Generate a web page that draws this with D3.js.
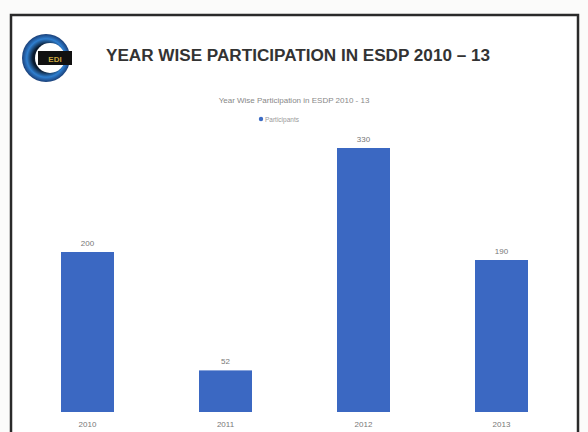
<!DOCTYPE html>
<html>
<head>
<meta charset="utf-8">
<script src="https://cdn.jsdelivr.net/npm/d3@7"></script>
<style>
html,body{margin:0;padding:0;background:#fff;}
svg{display:block;}
</style>
</head>
<body>
<svg id="c" width="588" height="432"></svg>
<script>
const categories = ["2010", "2011", "2012", "2013"];
const participants = [200, 52, 330, 190];
const seriesName = "Participants";
const slideTitle = "YEAR WISE PARTICIPATION IN ESDP 2010 – 13";
const chartTitle = "Year Wise Participation in ESDP 2010 - 13";

const svg = d3.select("#c");
svg.append("rect").attr("width",588).attr("height",432).attr("fill","#fbfbfa");
// slide frame
svg.append("rect").attr("x",11).attr("y",15).attr("width",567).attr("height",430)
  .attr("fill","#fff").attr("stroke","#2a2a2a").attr("stroke-width",2.5);

// logo
const defs = svg.append("defs");
const g = defs.append("radialGradient").attr("id","lg");
g.append("stop").attr("offset","55%").attr("stop-color","#0a1a2e");
g.append("stop").attr("offset","80%").attr("stop-color","#2f7fd0");
g.append("stop").attr("offset","100%").attr("stop-color","#1a3f78");
svg.append("circle").attr("cx",46).attr("cy",58).attr("r",24).attr("fill","url(#lg)");
svg.append("circle").attr("cx",50).attr("cy",58).attr("r",15).attr("fill","#fff");
svg.append("rect").attr("x",38).attr("y",51).attr("width",34).attr("height",14).attr("fill","#111");
svg.append("text").attr("x",55).attr("y",61.5).attr("text-anchor","middle")
  .attr("font-family","Liberation Sans, Arial").attr("font-size",8).attr("font-weight","bold")
  .attr("fill","#c9a640").text("EDI");

svg.append("text").attr("x",106).attr("y",61)
  .attr("font-family","Liberation Sans, Arial").attr("font-size",16).attr("font-weight","bold")
  .attr("fill","#333").attr("textLength",384).attr("lengthAdjust","spacingAndGlyphs").text(slideTitle);

svg.append("text").attr("x",294).attr("y",103).attr("text-anchor","middle")
  .attr("font-family","Liberation Sans, Arial").attr("font-size",8).attr("fill","#888").text(chartTitle);

// legend
svg.append("circle").attr("cx",261).attr("cy",119).attr("r",2.2).attr("fill","#3d6cc4");
svg.append("text").attr("x",265).attr("y",121.5)
  .attr("font-family","Liberation Sans, Arial").attr("font-size",6.5).attr("fill","#999").text(seriesName);

const x = d3.scaleBand().domain(categories).range([18.5, 570.5]).paddingInner(0.616).paddingOuter(0.308);
const y = d3.scaleLinear().domain([0, 350]).range([412, 132]);

const data = categories.map((c,i)=>({c, v: participants[i]}));

svg.append("g").selectAll("rect").data(data).join("rect")
  .attr("x", d=>x(d.c)).attr("y", d=>y(d.v))
  .attr("width", x.bandwidth()).attr("height", d=>y(0)-y(d.v))
  .attr("fill","#3b68c2");

svg.append("g").selectAll("text").data(data).join("text")
  .attr("x", d=>x(d.c)+x.bandwidth()/2).attr("y", d=>y(d.v)-6)
  .attr("text-anchor","middle").attr("font-family","Liberation Sans, Arial")
  .attr("font-size",8).attr("fill","#777").text(d=>d.v);

const ax = svg.append("g").attr("transform","translate(0,412)")
  .call(d3.axisBottom(x).tickSize(0).tickPadding(9));
ax.select(".domain").remove();
ax.selectAll("text").attr("font-family","Liberation Sans, Arial").attr("font-size",8).attr("fill","#777");
</script>
</body>
</html>
